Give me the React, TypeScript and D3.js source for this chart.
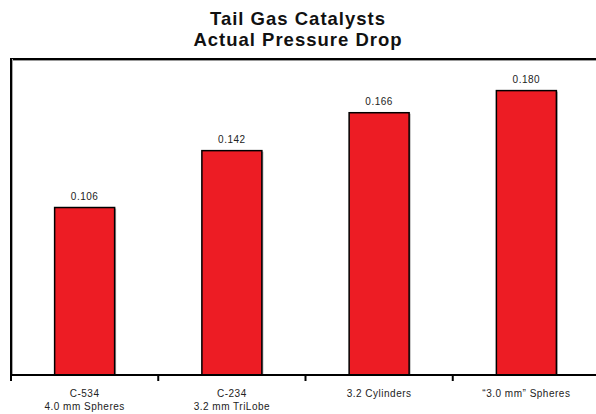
import React from "react";
import * as d3 from "d3";

const categories = ["C-534\n4.0 mm Spheres", "C-234\n3.2 mm TriLobe", "3.2 Cylinders", "\u201C3.0 mm\u201D Spheres"];
const values = [0.106, 0.142, 0.166, 0.18];
const valueLabels = ["0.106", "0.142", "0.166", "0.180"];
const titleLines = ["Tail Gas Catalysts", "Actual Pressure Drop"];

const W = 596;
const H = 414;
const plotLeft = 11;
const plotRight = 600;
const plotTop = 59;
const plotBottom = 375;

export default function App() {
  const x = d3.scaleBand<number>().domain(d3.range(categories.length)).range([plotLeft, plotRight]).paddingInner(0).paddingOuter(0);
  const y = d3.scaleLinear().domain([0, 0.2]).range([plotBottom, plotTop]);
  const barW = 60;
  const font = "'Liberation Sans', Arial, sans-serif";
  const ticks = d3.range(categories.length + 1).map((i) => plotLeft + i * x.bandwidth());

  return (
    <svg width={W} height={H} style={{ position: "absolute", left: 0, top: 0, background: "#fff" }} fontFamily={font}>
      {titleLines.map((t, i) => (
        <text key={i} x={298} y={25 + i * 21} textAnchor="middle" fontSize={18.5} fontWeight="bold" fill="#111" letterSpacing={1}>
          {t}
        </text>
      ))}
      {/* frame */}
      <line x1={plotLeft} x2={plotRight} y1={plotTop} y2={plotTop} stroke="#999" strokeWidth={1} transform="translate(0,1.5)" />
      <line x1={plotLeft} x2={plotRight} y1={plotTop} y2={plotTop} stroke="#000" strokeWidth={2} />
      <line x1={plotLeft + 1.5} x2={plotLeft + 1.5} y1={plotTop} y2={plotBottom} stroke="#aaa" strokeWidth={1} />
      <line x1={plotLeft} x2={plotLeft} y1={plotTop - 1} y2={plotBottom + 6} stroke="#000" strokeWidth={2} />
      {/* bars */}
      {values.map((v, i) => {
        const cx = (x(i) as number) + x.bandwidth() / 2;
        return (
          <g key={i}>
            <rect x={cx - barW / 2 + 1.5} y={y(v) + 1} width={barW} height={plotBottom - y(v)} fill="#aaa" />
            <rect x={cx - barW / 2} y={y(v)} width={barW} height={plotBottom - y(v)} fill="#ed1c24" stroke="#000" strokeWidth={1.5} />
            <text x={cx} y={y(v) - 8} textAnchor="middle" fontSize={10} fill="#222" letterSpacing={0.5}>
              {valueLabels[i]}
            </text>
          </g>
        );
      })}
      {/* x axis */}
      <line x1={plotLeft - 1} x2={plotRight} y1={plotBottom} y2={plotBottom} stroke="#000" strokeWidth={2} />
      {ticks.map((t, i) => (
        <line key={i} x1={t} x2={t} y1={plotBottom} y2={plotBottom + 6} stroke="#000" strokeWidth={2} />
      ))}
      {categories.map((c, i) => {
        const cx = (x(i) as number) + x.bandwidth() / 2;
        return (
          <text key={i} x={cx} y={397} textAnchor="middle" fontSize={10} fill="#222" letterSpacing={0.5}>
            {c.split("\n").map((l, j) => (
              <tspan key={j} x={cx} dy={j === 0 ? 0 : 13}>
                {l}
              </tspan>
            ))}
          </text>
        );
      })}
    </svg>
  );
}
